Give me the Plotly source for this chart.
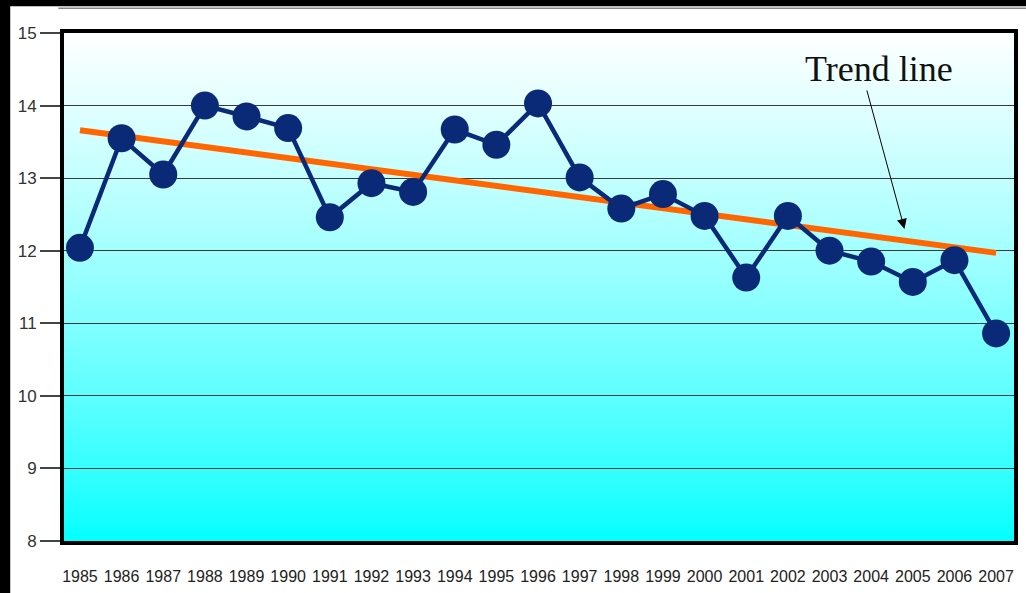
import plotly.graph_objects as go

# Values
years = list(range(1985, 2008))
values = [
    12.04, 13.55, 13.05, 14.00, 13.85, 13.69, 12.46, 12.93, 12.81, 13.67, 13.46, 14.03,
    13.01, 12.58, 12.78, 12.48, 11.63, 12.48, 12.00, 11.85, 11.57, 11.87, 10.86,
]
trend_years = [1985, 2007]
trend_values = [13.66, 11.97]
y_ticks = [8, 9, 10, 11, 12, 13, 14, 15]

NAVY = "#0a2a78"
ORANGE = "#ff6600"

fig = go.Figure()

fig.add_trace(
    go.Scatter(
        x=trend_years,
        y=trend_values,
        mode="lines",
        line=dict(color=ORANGE, width=6),
        hoverinfo="skip",
        showlegend=False,
    )
)

fig.add_trace(
    go.Scatter(
        x=years,
        y=values,
        mode="lines+markers",
        line=dict(color=NAVY, width=4.5),
        marker=dict(color=NAVY, size=28),
        showlegend=False,
    )
)

# white -> cyan vertical gradient behind the plot area
shapes = []
n_bands = 128
for i in range(n_bands):
    f = (i + 0.5) / n_bands  # 0 at bottom, 1 at top
    r = int(round(255 * f ** 0.8))
    shapes.append(
        dict(
            type="rect",
            xref="paper",
            yref="paper",
            x0=0,
            x1=1,
            y0=i / n_bands,
            y1=(i + 1) / n_bands + 0.002,
            fillcolor=f"rgb({r},255,255)",
            line=dict(width=0),
            layer="below",
        )
    )

# black frame strips of the original slide and the thin rule on top
shapes += [
    dict(type="rect", xref="paper", yref="paper", x0=-0.08, x1=-0.0566,
         y0=-0.2, y1=1.2, fillcolor="black", line=dict(width=0), layer="above"),
    dict(type="rect", xref="paper", yref="paper", x0=-0.08, x1=1.02,
         y0=1.0528, y1=1.2, fillcolor="black", line=dict(width=0), layer="above"),
    dict(type="line", xref="paper", yref="paper", x0=-0.006, x1=1.02,
         y0=1.0485, y1=1.0485, line=dict(color="#888888", width=1.5), layer="above"),
]

fig.update_layout(
    width=1026,
    height=593,
    margin=dict(l=64, r=8, t=33, b=49),
    paper_bgcolor="white",
    plot_bgcolor="rgba(0,0,0,0)",
    font=dict(family="Liberation Sans, Arial", color="#222222"),
    shapes=shapes,
    xaxis=dict(
        range=[1984.617, 2007.43],
        tickmode="array",
        tickvals=years,
        ticktext=[str(y) for y in years],
        tickfont=dict(size=16, color="#222222"),
        ticks="outside",
        ticklen=18,
        tickcolor="rgba(0,0,0,0)",
        showgrid=False,
        zeroline=False,
        showline=True,
        linecolor="black",
        linewidth=4,
        mirror=True,
    ),
    yaxis=dict(
        range=[8, 15],
        tickmode="array",
        tickvals=y_ticks,
        tickfont=dict(size=17, color="#333333"),
        ticks="outside",
        ticklen=20,
        tickwidth=1.5,
        tickcolor="#444444",
        showgrid=True,
        gridcolor="#3a3a3a",
        gridwidth=1,
        zeroline=False,
        showline=True,
        linecolor="black",
        linewidth=4,
        mirror=True,
    ),
    annotations=[
        dict(
            x=2004.2,
            y=14.507,
            xref="x",
            yref="y",
            text="Trend line",
            showarrow=False,
            xanchor="center",
            yanchor="middle",
            font=dict(family="Liberation Serif, Times New Roman", size=36, color="#111111"),
        ),
        dict(
            x=2004.8,
            y=12.3,
            xref="x",
            yref="y",
            text="",
            showarrow=True,
            ax=-38,
            ay=-140,
            arrowhead=2,
            arrowsize=2,
            arrowwidth=1,
            arrowcolor="black",
            standoff=0,
        ),
    ],
)

# the page's default body margin would push the figure off its 1026x593 window
fig.write_html(
    "out.html",
    config=dict(displayModeBar=False),
    post_script="document.body.style.margin = '0';",
)
